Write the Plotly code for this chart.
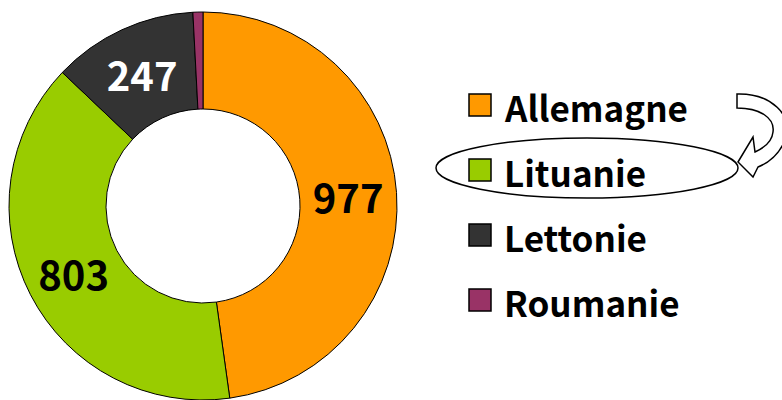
import plotly.graph_objects as go

W, H = 782, 400

labels = ["Allemagne", "Lituanie", "Lettonie", "Roumanie"]
values = [977, 803, 247, 17]
colors = ["#FF9900", "#99CC00", "#333333", "#993366"]
label_text = ["977", "803", "247", ""]
text_colors = ["#000000", "#000000", "#FFFFFF", "#000000"]

FONT = "Noto Sans CJK JP"


def px(x):
    return x / W


def py(y):
    return 1 - y / H


fig = go.Figure()
fig.add_trace(go.Pie(
    labels=labels,
    values=values,
    text=label_text,
    textinfo="text",
    textposition="inside",
    insidetextorientation="horizontal",
    textfont=dict(family=FONT, size=40, color=text_colors, weight="bold"),
    marker=dict(colors=colors, line=dict(color="#000000", width=1)),
    hole=0.5,
    sort=False,
    direction="clockwise",
    rotation=0,
    showlegend=False,
    hoverinfo="label+value",
    domain=dict(x=[0, 406 / W], y=[0, 1 - 12 / H]),
))

shapes = []
annotations = []
# custom legend (large squares)
row0, step = 105, 65
for i, (lab, col) in enumerate(zip(labels, colors)):
    cy = row0 + i * step
    shapes.append(dict(type="rect", xref="paper", yref="paper",
                       x0=px(469), x1=px(491), y0=py(cy - 11), y1=py(cy + 11),
                       fillcolor=col, line=dict(color="#000000", width=1.5)))
    annotations.append(dict(text=lab, xref="paper", yref="paper",
                            x=px(502), y=py(cy + 1), xanchor="left", yanchor="middle",
                            showarrow=False,
                            font=dict(family=FONT, size=35, color="#000000", weight="bold")))

# ellipse around Lituanie
shapes.append(dict(type="circle", xref="paper", yref="paper",
                   x0=px(436), x1=px(738), y0=py(138), y1=py(198),
                   line=dict(color="#000000", width=1.5), fillcolor="rgba(0,0,0,0)"))

# curved hollow arrow
pts = [
    ("M", [(737, 94)]),
    ("C", [(770, 93), (795, 115), (785, 140)]),
    ("C", [(779, 155), (768, 163), (758, 167)]),
    ("L", [(753, 177)]),
    ("L", [(738, 162)]),
    ("L", [(753, 137)]),
    ("L", [(755, 152)]),
    ("C", [(764, 148), (772, 142), (773, 132)]),
    ("C", [(775, 118), (760, 108), (737, 108)]),
]
path = ""
for cmd, cs in pts:
    path += cmd + " ".join(f"{px(x):.5f},{py(y):.5f}" for x, y in cs) + " "
path += "Z"
shapes.append(dict(type="path", xref="paper", yref="paper", path=path,
                   fillcolor="#FFFFFF", line=dict(color="#000000", width=1.5)))

fig.update_layout(
    width=W, height=H,
    margin=dict(l=0, r=0, t=0, b=0),
    paper_bgcolor="#FFFFFF",
    plot_bgcolor="#FFFFFF",
    shapes=shapes,
    annotations=annotations,
)

fig.write_html("out.html",
               config={"displayModeBar": False},
               post_script="document.body.style.margin='0px';document.body.style.padding='0px';")
